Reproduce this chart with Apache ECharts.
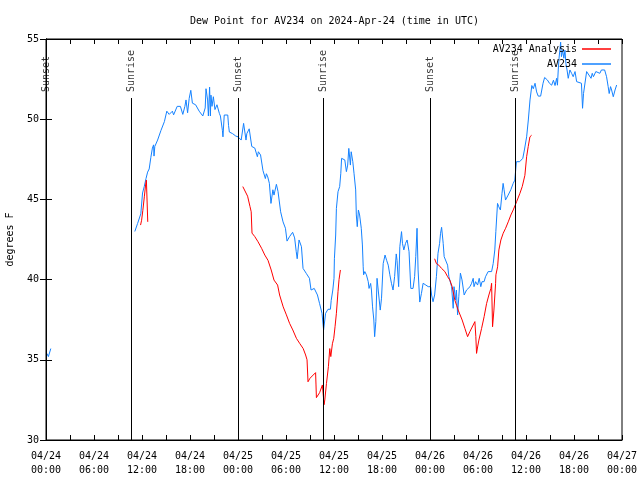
<!DOCTYPE html>
<html><head><meta charset="utf-8">
<script src="https://cdn.jsdelivr.net/npm/echarts@6/dist/echarts.min.js"></script>
<style>html,body{margin:0;padding:0;background:#fff}#c{width:640px;height:480px}</style>
</head><body><div id="c"></div><script>
// hours since 2024-04-24 00:00 UTC
const xTickLabels = ['04/24\n00:00','04/24\n06:00','04/24\n12:00','04/24\n18:00','04/25\n00:00','04/25\n06:00','04/25\n12:00','04/25\n18:00','04/26\n00:00','04/26\n06:00','04/26\n12:00','04/26\n18:00','04/27\n00:00'];
const sunsetHours = [0.02, 24.03, 48.06];
const sunriseHours = [10.7, 34.65, 58.7];
const sunLineTop = 51.32;

const av234 = [
[0.1,35.4],[0.3,35.2],[0.5,35.25],[0.6,35.7],null,
[11.1,43.0],[11.45,43.5],[11.85,44.1],[12.07,45.4],[12.28,45.8],[12.5,46.3],[12.7,46.7],[12.9,46.9],[13.1,47.6],[13.3,48.2],[13.45,48.4],[13.5,47.7],[13.6,48.3],[13.95,48.7],[14.37,49.3],[14.8,49.85],[15.1,50.5],[15.4,50.3],[15.8,50.5],[15.95,50.27],[16.4,50.8],[16.8,50.8],[17.1,50.3],[17.36,50.8],[17.5,51.2],[17.7,50.4],[17.9,51.3],[18.1,51.8],[18.3,51.0],[18.7,50.9],[19.15,50.5],[19.6,50.2],[19.9,50.7],[20.0,51.9],[20.2,51.2],[20.3,50.2],[20.45,52.0],[20.55,50.2],[20.62,51.5],[20.75,50.8],[20.92,51.4],[21.12,50.6],[21.37,50.9],[21.67,50.36],[21.8,50.2],[22.05,49.3],[22.12,48.9],[22.28,50.26],[22.72,50.26],[22.82,49.6],[22.92,49.2],[23.32,49.1],[23.72,48.95],[24.0,48.9],
[24.4,48.7],[24.7,49.74],[25.0,48.7],[25.1,49.1],[25.4,49.4],[25.72,48.3],[26.1,48.2],[26.42,47.66],[26.55,47.97],[26.82,47.77],[27.12,46.8],[27.42,46.3],[27.55,46.6],[27.72,46.4],[27.92,46.0],[28.12,44.75],[28.36,45.6],[28.5,45.27],[28.8,45.94],[29.0,45.5],[29.33,44.23],[29.63,43.6],[29.93,43.2],[30.13,42.4],[30.43,42.67],[30.83,42.95],[31.08,42.6],[31.28,41.74],[31.4,41.3],[31.63,42.47],[31.93,42.05],[32.13,40.7],[32.53,40.39],[32.7,40.5],[32.93,40.08],[33.13,39.35],[33.53,39.45],[33.7,39.56],[33.93,39.04],[34.2,38.5],[34.5,37.9],[34.7,36.86],[34.95,37.9],[35.25,38.15],[35.55,38.15],[35.65,38.7],[35.85,39.35],[36.0,40.08],[36.05,41.3],[36.21,42.78],[36.3,44.44],[36.5,45.48],[36.71,45.8],[36.85,46.63],[36.95,47.56],[37.15,47.66],[37.35,47.46],[37.55,46.73],[37.71,47.14],[37.85,48.18],[38.05,47.14],[38.15,47.97],[38.25,48.08],[38.35,47.35],[38.5,46.63],[38.71,45.59],[38.79,44.03],[38.91,43.3],[39.05,44.34],[39.2,44.03],[39.41,43.2],[39.55,42.16],[39.65,40.8],[39.7,40.3],[39.85,40.5],[40.05,40.3],[40.28,39.87],[40.38,39.45],[40.58,39.76],[40.68,39.35],[40.82,38.3],[40.98,37.48],[41.08,36.44],[41.23,37.38],[41.38,40.08],[41.63,40.08],[41.78,38.1],[41.94,38.84],[42.15,41.0],[42.38,41.53],[42.58,41.2],[42.78,40.9],[42.98,40.3],[43.18,39.77],[43.38,39.35],[43.58,40.2],[43.78,41.6],[43.88,41.2],[44.08,39.56],[44.23,42.05],[44.44,42.99],[44.56,42.26],[44.73,41.85],[44.94,42.26],[45.14,42.47],[45.38,41.74],[45.6,39.45],[45.88,39.45],[46.08,40.2],[46.22,41.43],[46.38,43.2],[46.51,40.6],[46.72,38.6],[46.93,39.14],[47.14,39.77],[47.48,39.66],[47.78,39.56],[48.08,39.56],[48.2,39.04],[48.38,38.62],[48.58,39.04],
[48.8,40.18],[49.0,41.64],[49.2,42.26],[49.32,42.89],[49.45,43.26],[49.65,42.26],[49.77,41.43],[50.0,41.43],[50.2,40.9],[50.36,40.18],[50.6,40.18],[50.7,39.56],[50.9,38.21],[51.0,39.56],[51.2,38.73],[51.3,39.35],[51.45,37.8],[51.6,38.93],[51.8,40.4],[52.0,39.98],[52.27,39.04],[52.57,39.35],[53.0,39.56],[53.2,39.77],[53.4,40.08],[53.5,39.56],[53.7,39.87],[53.95,39.66],[54.15,40.08],[54.35,39.56],[54.5,39.87],[54.76,39.87],[54.94,40.18],[55.27,40.5],[55.48,40.39],[55.7,40.5],[55.9,41.0],[56.1,41.85],[56.23,42.99],[56.44,44.75],[56.6,44.54],[56.8,44.34],[57.0,45.38],[57.14,46.0],[57.26,45.6],[57.44,44.96],[57.77,45.27],[58.1,45.6],[58.4,46.0],[58.6,46.2],[58.8,47.35],[59.2,47.35],[59.6,47.56],[59.8,48.08],
[60.08,48.9],[60.29,49.95],[60.5,51.2],[60.73,52.1],[60.91,51.9],[61.13,52.24],[61.33,51.7],[61.53,51.44],[61.83,51.44],[62.13,52.24],[62.33,52.6],[62.68,52.44],[62.93,52.24],[63.21,52.12],[63.43,52.43],[63.63,52.1],[63.83,52.55],[63.93,52.12],[64.03,53.07],[64.13,53.8],[64.33,54.8],[64.43,53.9],[64.58,54.3],[64.73,53.8],[64.87,54.3],[64.99,53.47],[65.13,53.07],[65.28,52.55],[65.49,53.07],[65.7,52.86],[65.9,52.65],[66.13,52.97],[66.33,52.34],[66.53,52.24],[66.93,52.24],[67.07,50.68],[67.19,51.6],[67.33,51.6],[67.58,52.97],[67.83,52.86],[68.13,52.55],[68.28,52.86],[68.43,52.65],[68.73,52.97],[68.93,52.86],[69.23,52.86],[69.43,53.07],[69.63,52.97],[69.83,53.07],[70.07,52.65],[70.27,52.03],[70.4,51.6],[70.57,52.03],[70.7,51.82],[70.91,51.4],[71.13,51.82],[71.33,52.13]
];

const av234Analysis = [
[11.82,43.4],[11.95,43.7],[12.1,44.3],[12.3,45.2],[12.45,45.9],[12.55,46.2],[12.62,46.2],[12.72,43.6],null,
[24.6,45.8],[24.8,45.7],[25.2,45.2],[25.5,44.55],[25.65,44.23],[25.75,42.9],[26.1,42.68],[26.5,42.36],[26.95,41.95],[27.35,41.53],[27.75,41.2],[28.15,40.6],[28.5,39.97],[28.95,39.66],[29.2,39.04],[29.65,38.3],[30.05,37.8],[30.45,37.27],[30.85,36.86],[31.3,36.34],[31.7,36.03],[32.15,35.7],[32.45,35.3],[32.63,35.0],[32.75,33.63],[33.0,33.85],[33.4,34.05],[33.7,34.2],[33.75,33.43],[33.8,32.64],[34.2,32.95],[34.55,33.43],[34.7,33.5],[34.76,32.2],[34.85,32.5],[35.06,33.53],[35.3,34.57],[35.47,35.7],[35.6,35.2],[35.8,36.0],[35.97,36.34],[36.13,37.06],[36.3,37.9],[36.5,39.25],[36.63,40.0],[36.8,40.6],null,
[48.58,41.3],[48.8,41.0],[49.1,40.9],[49.44,40.7],[49.86,40.5],[50.2,40.18],[50.48,39.97],[50.77,39.56],[51.1,38.73],[51.32,38.4],[51.52,38.1],[51.73,38.0],[52.02,37.48],[52.36,36.96],[52.7,36.44],[52.98,36.75],[53.4,37.17],[53.61,37.38],[53.73,36.44],[53.82,35.4],[53.95,35.8],[54.11,36.23],[54.45,36.96],[54.77,37.7],[55.07,38.5],[55.36,39.04],[55.61,39.45],[55.7,39.77],[55.82,37.06],[55.99,38.1],[56.2,39.77],[56.24,40.3],[56.45,40.8],[56.61,41.85],[56.86,42.47],[57.15,42.89],[57.45,43.2],[57.78,43.6],[58.11,44.03],[58.4,44.34],[58.83,44.86],[59.24,45.38],[59.53,45.8],[59.86,46.5],[60.08,47.66],[60.28,48.3],[60.49,48.9],[60.7,49.0]
];

const FONT = 'DejaVu Sans Mono';
const sunEvents = sunsetHours.map(h => ({name:'Sunset', h})).concat(sunriseHours.map(h => ({name:'Sunrise', h})));

const chart = echarts.init(document.getElementById('c'), null, {renderer:'canvas'});
const tickStyle = {show:true, inside:true, length:5, lineStyle:{color:'#000', width:1}};
const minor = {show:true, splitNumber:2, length:5, lineStyle:{color:'#000', width:1}};
chart.setOption({
  animation:false,
  backgroundColor:'#fff',
  title:{text:'Dew Point for AV234 on 2024-Apr-24 (time in UTC)', left:185, top:11, padding:5,
    textStyle:{fontFamily:FONT, fontSize:10, fontWeight:'normal', color:'#000'}},
  legend:{data:['AV234 Analysis','AV234'], orient:'vertical', right:24, top:39, align:'right',
    icon:'rect', itemWidth:29, itemHeight:1.5, itemGap:5,
    textStyle:{fontFamily:FONT, fontSize:10, color:'#000'}},
  grid:{left:46, right:18, top:39, bottom:40, show:true, borderColor:'#000', borderWidth:1,
    containLabel:false, outerBoundsMode:'none'},
  xAxis:[
    {type:'value', min:0, max:72, interval:6, position:'bottom',
     axisLine:{show:true, lineStyle:{color:'#000'}}, axisTick:tickStyle, minorTick:minor,
     splitLine:{show:false},
     axisLabel:{formatter:v => xTickLabels[Math.round(v/6)], fontFamily:FONT, fontSize:10, color:'#000', lineHeight:14, margin:9}},
    {type:'value', min:0, max:72, interval:6, position:'top',
     axisLine:{show:true, lineStyle:{color:'#000'}}, axisTick:tickStyle, minorTick:minor,
     splitLine:{show:false}, axisLabel:{show:false}}
  ],
  yAxis:[
    {type:'value', min:30, max:55, interval:5, position:'left',
     name:'degrees F', nameLocation:'middle', nameGap:31, nameRotate:90,
     nameTextStyle:{fontFamily:FONT, fontSize:10, color:'#000'},
     axisLine:{show:true, lineStyle:{color:'#000'}}, axisTick:{show:true, inside:true, length:6, lineStyle:{color:'#000'}},
     splitLine:{show:false},
     axisLabel:{fontFamily:FONT, fontSize:10, color:'#000', margin:7}},
    {type:'value', min:30, max:55, interval:5, position:'right',
     axisLine:{show:true, lineStyle:{color:'#000'}}, axisTick:{show:true, inside:true, length:6, lineStyle:{color:'#000'}},
     splitLine:{show:false}, axisLabel:{show:false}}
  ],
  series:[
    {name:'AV234', type:'line', data:av234, showSymbol:false, connectNulls:false,
     lineStyle:{color:'#1482ff', width:1}, itemStyle:{color:'#1482ff'}, z:3},
    {name:'AV234 Analysis', type:'line', data:av234Analysis, showSymbol:false, connectNulls:false,
     lineStyle:{color:'#ff0000', width:1}, itemStyle:{color:'#ff0000'}, z:4},
    {name:'sun', type:'scatter', symbolSize:0, silent:true, z:2,
     data:sunEvents.map(e => ({name:e.name, value:[e.h, sunLineTop]})),
     label:{show:true, position:'top', distance:6, rotate:90, align:'left', verticalAlign:'middle',
       formatter:p => p.name, fontFamily:FONT, fontSize:10, color:'#000'},
     markLine:{silent:true, symbol:['none','none'], label:{show:false},
       lineStyle:{color:'#000', width:1, type:'solid'},
       data:sunEvents.map(e => [{coord:[e.h, 30]}, {coord:[e.h, sunLineTop]}])}}
  ]
});
</script></body></html>
